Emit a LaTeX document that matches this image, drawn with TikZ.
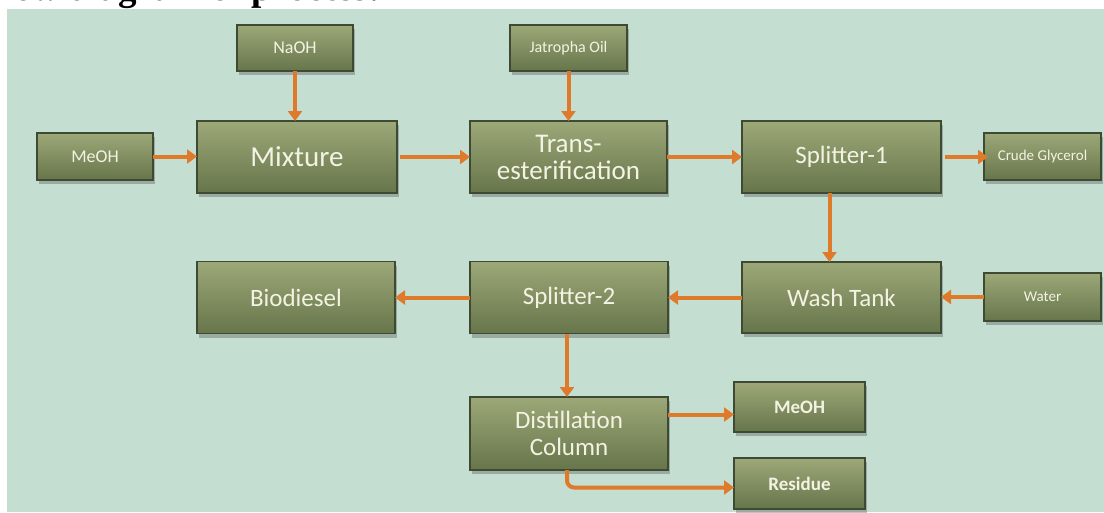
\documentclass[tikz,border=0pt]{standalone}
\usepackage{fontspec}
\setmainfont{Carlito}
\newfontfamily\titlefont{Liberation Serif}
\usepackage{tikz}
\usetikzlibrary{arrows.meta, shadows}
\definecolor{panelBg}{HTML}{C4DED2}
\definecolor{boxTop}{HTML}{9CA877}
\definecolor{boxBot}{HTML}{67754B}
\definecolor{boxLine}{HTML}{3E4A32}
\definecolor{boxText}{HTML}{F3F3E4}
\definecolor{flowCol}{HTML}{E07A2B}

\tikzset{
  unit/.style={draw=boxLine, line width=1.6pt, top color=boxTop, bottom color=boxBot,
               text=boxText, align=center, inner sep=2pt, outer sep=0pt,
               drop shadow={shadow xshift=2pt, shadow yshift=-4pt, opacity=0.35, fill=black!70}},
  bigunit/.style={unit, font=\fontsize{25}{27}\selectfont},
  feed/.style={unit, font=\fontsize{16}{18}\selectfont},
  prod/.style={unit, font=\bfseries\fontsize{19}{21}\selectfont},
  flow/.style={draw=flowCol, line width=4pt, -{Triangle[length=10pt,width=14pt]}}
}

\begin{document}
\begin{tikzpicture}[x=1pt,y=-1pt]
  \clip (0,0) rectangle (1104,512);
  \fill[white] (0,0) rectangle (1104,512);
  \fill[panelBg] (7,9) rectangle (1104,512);
  \node[anchor=base west, font=\titlefont\bfseries\fontsize{37}{37}\selectfont] (title) at (-22,0.5)
    {Flow diagram of process:};

  % first row
  \node[feed, minimum width=116pt, minimum height=46pt, font=\fontsize{18}{20}\selectfont] (naoh) at (295,48) {NaOH};
  \node[feed, minimum width=117pt, minimum height=46pt] (oil) at (568.5,48) {Jatropha Oil};
  \node[feed, minimum width=116pt, minimum height=47pt, font=\fontsize{18}{20}\selectfont] (meohA) at (95,156.5) {MeOH};
  \node[bigunit, minimum width=200pt, minimum height=72pt, font=\fontsize{29}{31}\selectfont] (mix) at (297,157) {Mixture};
  \node[bigunit, minimum width=197pt, minimum height=72pt, font=\fontsize{27}{27}\selectfont] (trans) at (568.5,157) {Trans-\\esterification};
  \node[bigunit, minimum width=199pt, minimum height=72pt] (splA) at (841.5,157) {Splitter-1};
  \node[feed, minimum width=117pt, minimum height=47pt, font=\fontsize{15}{17}\selectfont] (glyc) at (1042.5,156.5) {Crude Glycerol};

  % second row
  \node[bigunit, minimum width=198pt, minimum height=72pt] (bio) at (296,297.5) {Biodiesel};
  \node[bigunit, minimum width=198pt, minimum height=72pt] (splB) at (569,297.5) {Splitter-2};
  \node[bigunit, minimum width=199pt, minimum height=71pt] (wash) at (841.5,297.5) {Wash Tank};
  \node[feed, minimum width=117pt, minimum height=48pt, font=\fontsize{15}{17}\selectfont] (water) at (1042.5,297) {Water};

  % recovery
  \node[bigunit, minimum width=198pt, minimum height=73pt] (dist) at (569,433.5) {Distillation\\Column};
  \node[prod, minimum width=131pt, minimum height=50pt] (meohB) at (799.5,407) {MeOH};
  \node[prod, minimum width=131pt, minimum height=51pt] (res) at (799.5,483.5) {Residue};

  \draw[flow] (meohA.east) -- (meohA.east -| mix.west);
  \draw[flow] (naoh.south) -- (naoh.south |- mix.north);
  \draw[flow] ([xshift=3pt]mix.east) -- (trans.west);
  \draw[flow] (oil.south) -- (oil.south |- trans.north);
  \draw[flow] (trans.east) -- (splA.west);
  \draw[flow] ([xshift=4pt]splA.east) -- ([xshift=4pt]splA.east -| glyc.west);
  \draw[flow] ([xshift=-12pt]splA.south) -- ([xshift=-12pt]wash.north);
  \draw[flow] (water.west) -- (water.west -| wash.east);
  \draw[flow] (wash.west) -- (splB.east);
  \draw[flow] (splB.west) -- (bio.east);
  \draw[flow] ([xshift=-2pt]splB.south) -- ([xshift=-2pt]dist.north);
  \draw[flow] ([yshift=19pt]dist.east) -- ([yshift=19pt]dist.east -| meohB.west);
  \draw[flow, rounded corners=7pt] ([xshift=-2pt]dist.south) |- ([yshift=-4pt]res.west);
\end{tikzpicture}
\end{document}
